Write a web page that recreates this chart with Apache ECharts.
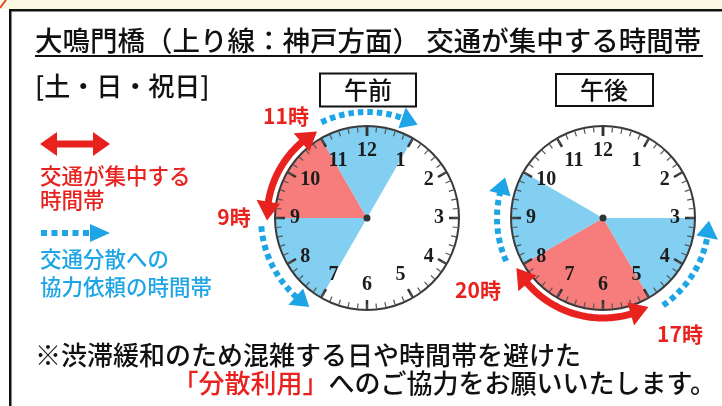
<!DOCTYPE html>
<html>
<head>
<meta charset="utf-8">
<script src="https://cdn.jsdelivr.net/npm/echarts@6/dist/echarts.min.js"></script>
<style>
html,body{margin:0;padding:0;background:#fff;}
#chart{width:722px;height:406px;}
</style>
</head>
<body>
<div id="chart"></div>
<script>
// ---------- data ----------
const titleText = '大鳴門橋（上り線：神戸方面） 交通が集中する時間帯';
const dayText = '[土・日・祝日]';
const clockNames = ['午前', '午後'];
const hourTicks = ['12','1','2','3','4','5','6','7','8','9','10','11'];
// status of each hour slot on the dial (slot i = from hour i to hour i+1)
// 'C' = congestion, 'D' = dispersal requested, '' = none
const amSlots = ['D','','','','','','','D','D','C','C','D'];
const pmSlots = ['','','','D','D','C','C','C','D','D','',''];
// arrows around the dial: [fromHour, toHour, kind(0=congestion double arrow, 1=dispersal dotted arrow)]
const amArrows = [[8.95, 11.0, 0], [11.15, 12.95, 1], [8.85, 7.1, 1]];
const pmArrows = [[5.1, 8.0, 0], [4.85, 3.05, 1], [8.2, 9.75, 1]];
const amTimeLabels = ['11時', '9時'];
const pmTimeLabels = ['20時', '17時'];
const legendCongestion = ['交通が集中する', '時間帯'];
const legendDispersal = ['交通分散への', '協力依頼の時間帯'];
const noteLine1 = '※渋滞緩和のため混雑する日や時間帯を避けた';
const noteLine2Red = '「分散利用」';
const noteLine2 = 'へのご協力をお願いいたします。';

// ---------- style ----------
const JP = '"Noto Sans CJK JP", "Noto Sans", sans-serif';
const RED = '#e8231f', BLUE = '#1ea5e6';
const WEDGE = {C: '#f77c7c', D: '#82cff2'};
const CX = [367, 603], CY = 218, R = 93;

function slotsToPie(slots) {
  const out = [];
  for (let i = 0; i < slots.length; i++) {
    const s = slots[i];
    if (out.length && out[out.length - 1].status === s) out[out.length - 1].value += 1;
    else out.push({value: 1, status: s});
  }
  return out.map(d => ({value: d.value, itemStyle: {color: d.status ? WEDGE[d.status] : 'rgba(0,0,0,0)'}}));
}

function pieSeries(i, slots) {
  return {
    type: 'pie', center: [CX[i], CY], radius: R - 1, startAngle: 90, clockwise: true,
    silent: true, label: {show: false}, labelLine: {show: false}, z: 1,
    itemStyle: {borderWidth: 0}, emphasis: {disabled: true}, animation: false,
    data: slotsToPie(slots)
  };
}

function gaugeSeries(i) {
  return {
    type: 'gauge', center: [CX[i], CY], radius: R, startAngle: 90, endAngle: -270,
    min: 0, max: 12, splitNumber: 12, z: 3, silent: true, animation: false,
    axisLine: {lineStyle: {width: 2, color: [[1, '#3a3a3a']]}},
    splitLine: {length: 9, distance: 0, lineStyle: {width: 2.5, color: '#333'}},
    axisTick: {splitNumber: 5, length: 5, distance: 0, lineStyle: {width: 1.2, color: '#555'}},
    axisLabel: {
      distance: 7, fontFamily: '"Liberation Serif", serif', fontWeight: 'bold', fontSize: 20, color: '#1c1c1c',
      formatter: v => (v === 0 ? '' : hourTicks[Math.round(v) % 12])
    },
    pointer: {show: false}, title: {show: false}, detail: {show: false},
    anchor: {show: true, showAbove: true, size: 7, itemStyle: {color: '#333'}},
    data: [{value: 0}]
  };
}

const ARROW = {
  0: {r: 100, width: 7, color: RED, dash: null, headLen: 19, headHalf: 12, both: true},
  1: {r: 106, width: 6, color: BLUE, dash: [5.5, 4], headLen: 17, headHalf: 11, both: false}
};

function renderArrow(params, api) {
  const from = api.value(0), to = api.value(1), kind = api.value(2);
  const st = ARROW[kind];
  const dir = Math.sign(to - from);
  const headH = st.headLen / (st.r * Math.PI / 6);
  const norm = h => ((h % 12) + 12) % 12;
  const pt = (r, h) => api.coord([r, norm(h)]);
  const a = st.both ? from + dir * headH * 0.8 : from;
  const b = to - dir * headH * 0.8;
  const pts = [];
  const N = 60;
  for (let k = 0; k <= N; k++) pts.push(pt(st.r, a + (b - a) * k / N));
  const head = (tipH, d) => ({
    type: 'polygon',
    shape: {points: [pt(st.r, tipH), pt(st.r + st.headHalf, tipH - d * headH), pt(st.r - st.headHalf, tipH - d * headH)]},
    style: {fill: st.color}
  });
  const children = [{
    type: 'polyline', shape: {points: pts},
    style: {stroke: st.color, lineWidth: st.width, lineDash: st.dash || null, lineCap: 'butt', fill: 'none'}
  }, head(to, dir)];
  if (st.both) children.push(head(from, -dir));
  return {type: 'group', children};
}

function arrowSeries(i, data) {
  return {
    type: 'custom', coordinateSystem: 'polar', polarIndex: i, z: 4, silent: true, animation: false,
    renderItem: renderArrow, data: data
  };
}

function txt(x, y, text, size, color, align, weight) {
  return {
    type: 'text', x, y, z: 10, silent: true,
    style: {text, fontSize: size, fontWeight: weight || 500, fontFamily: JP, fill: color, textAlign: align || 'left', textVerticalAlign: 'middle'}
  };
}

const graphics = [
  {type: 'rect', shape: {x: 0, y: 0, width: 722, height: 9}, style: {fill: '#fbf8e3'}, z: 0},
  {type: 'line', shape: {x1: 0, y1: 8, x2: 6, y2: 0}, style: {stroke: '#e64a2e', lineWidth: 2}, z: 0},
  {type: 'rect', shape: {x: 9, y: 9, width: 713, height: 2.5}, style: {fill: '#111111'}, z: 1},
  {type: 'rect', shape: {x: 9, y: 9, width: 2.5, height: 397}, style: {fill: '#111111'}, z: 1},
  txt(35, 41, titleText, 27.5, '#111'),
  {type: 'line', shape: {x1: 35, y1: 56, x2: 703, y2: 56}, style: {stroke: '#111', lineWidth: 2}, z: 10},
  txt(35, 86, dayText, 26, '#111'),
  {type: 'rect', shape: {x: 320, y: 73.5, width: 96, height: 33}, style: {fill: '#fff', stroke: '#111', lineWidth: 2}, z: 5},
  txt(368, 90, clockNames[0], 24, '#111', 'center'),
  {type: 'rect', shape: {x: 556, y: 74, width: 97, height: 32}, style: {fill: '#fff', stroke: '#111', lineWidth: 2}, z: 5},
  txt(604, 90, clockNames[1], 24, '#111', 'center'),
  // legend
  {type: 'polygon', z: 10, shape: {points: [[40,144],[57,132],[57,140.5],[93,140.5],[93,132],[110,144],[93,156],[93,147.5],[57,147.5],[57,156]]}, style: {fill: RED}},
  txt(40, 176, legendCongestion[0], 21.5, RED),
  txt(40, 200, legendCongestion[1], 21.5, RED),
  {type: 'line', z: 10, shape: {x1: 41, y1: 233, x2: 89, y2: 233}, style: {stroke: BLUE, lineWidth: 6, lineDash: [6, 4.5]}},
  {type: 'polygon', z: 10, shape: {points: [[90,224],[110,233],[90,242]]}, style: {fill: BLUE}},
  txt(40, 259, legendDispersal[0], 21.5, BLUE),
  txt(40, 287, legendDispersal[1], 21.5, BLUE),
  // time labels
  txt(286, 116, amTimeLabels[0], 21, RED, 'center', 'bold'),
  txt(234, 217, amTimeLabels[1], 21, RED, 'center', 'bold'),
  txt(478, 290, pmTimeLabels[0], 21, RED, 'center', 'bold'),
  txt(680, 334, pmTimeLabels[1], 21, RED, 'center', 'bold'),
  // notes
  txt(35, 355, noteLine1, 26, '#111'),
  {type: 'text', x: 716, y: 383, z: 10, silent: true, style: {
    text: '{r|' + noteLine2Red + '}{k|' + noteLine2 + '}', textAlign: 'right', textVerticalAlign: 'middle',
    fontSize: 26, fontFamily: JP, fontWeight: 500,
    rich: {r: {fill: RED, fontSize: 26, fontWeight: 500, fontFamily: JP}, k: {fill: '#111', fontSize: 26, fontWeight: 500, fontFamily: JP}}
  }}
];

const chart = echarts.init(document.getElementById('chart'), null, {renderer: 'canvas'});
chart.setOption({
  backgroundColor: '#ffffff',
  animation: false,
  polar: [{center: [CX[0], CY], radius: 120}, {center: [CX[1], CY], radius: 120}],
  angleAxis: [
    {polarIndex: 0, type: 'value', min: 0, max: 12, startAngle: 90, clockwise: true, show: false},
    {polarIndex: 1, type: 'value', min: 0, max: 12, startAngle: 90, clockwise: true, show: false}
  ],
  radiusAxis: [
    {polarIndex: 0, type: 'value', min: 0, max: 120, show: false},
    {polarIndex: 1, type: 'value', min: 0, max: 120, show: false}
  ],
  series: [
    pieSeries(0, amSlots), pieSeries(1, pmSlots),
    gaugeSeries(0), gaugeSeries(1),
    arrowSeries(0, amArrows), arrowSeries(1, pmArrows)
  ],
  graphic: {elements: graphics}
});
</script>
</body>
</html>
